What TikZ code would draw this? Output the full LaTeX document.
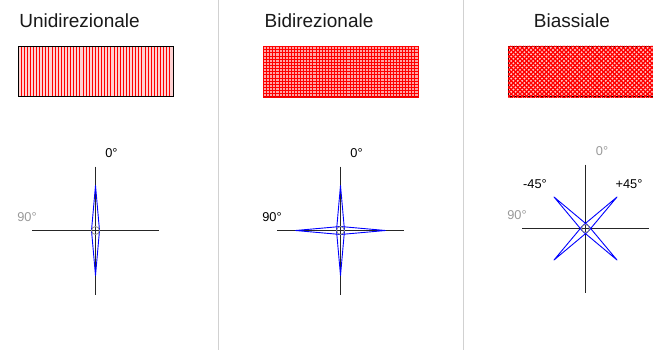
\documentclass[tikz,border=0pt]{standalone}
\usepackage{fontspec}
\setmainfont{Liberation Sans}
\begin{document}
\begin{tikzpicture}[
  x=1pt, y=-1pt,
  divider/.style={draw=black!18, line width=1pt},
  title/.style={font=\fontsize{19}{22}\selectfont, text=black!90},
  angle/.style={font=\fontsize{12.8}{15}\selectfont, inner sep=0pt},
  faded/.style={angle, text=black!40},
  frame/.style={draw=black, fill=red!18, line width=1pt},
  hatch/.style={draw=red, line width=0.9pt},
  crosshatch/.style={draw=red, line width=1.3pt},
  axis/.style={draw=black!85, line width=1pt},
  lens/.style={draw=blue, line width=0.9pt, line join=round},
  hub/.style={circle, draw=black!45, line width=0.8pt, minimum size=8pt, inner sep=0pt}
]
\useasboundingbox (0,0) rectangle (653,350);

% dividers
\draw[divider] (218.5,0) -- (218.5,350);
\draw[divider] (463.5,0) -- (463.5,350);

% titles
\node[title] (titleuni) at (79.5,21) {Unidirezionale};
\node[title] (titlebi) at (319,21) {Bidirezionale};
\node[title] (titlebia) at (572,21) {Biassiale};

% fabric swatches
\draw[frame] (18.5,46.5) rectangle (173,97);
\foreach \x in {21,24.1,...,172}
  \draw[hatch] (\x,47) -- (\x,96.5);

\draw[frame, draw=red!85!black, fill=red!35] (263.5,46.5) rectangle (418,97);
\foreach \x in {263.5,266.59,...,418.1}
  \draw[hatch] (\x,46) -- (\x,97.5);
\foreach \y in {46.5,49.66,...,97.1}
  \draw[hatch] (263,\y) -- (418.5,\y);

\draw[frame] (508.5,46.5) rectangle (664,97);
\begin{scope}
  \clip (508,46) rectangle (653,97.5);
  \foreach \x in {450,454.4,...,710} {
    \draw[crosshatch] (\x,46) -- (\x+52,98);
    \draw[crosshatch] (\x,98) -- (\x+52,46);
  }
\end{scope}

% unidirezionale
\coordinate (centeruni) at (95.5,230.5);
\draw[axis] ([yshift=64pt]centeruni) -- ([yshift=-64pt]centeruni);
\draw[axis] ([xshift=-63.5pt]centeruni) -- ([xshift=63.5pt]centeruni);
\draw[lens] ([yshift=45pt]centeruni) -- ([xshift=4pt]centeruni) -- ([yshift=-45pt]centeruni) -- ([xshift=-4pt]centeruni) -- cycle;
\node[hub] (hubuni) at (centeruni) {};
\node[angle] (zerouni) at (111.5,153) {0°};
\node[faded] (ninetyuni) at (27,217) {90°};

% bidirezionale
\coordinate (centerbi) at (340.5,230.5);
\draw[axis] ([yshift=64pt]centerbi) -- ([yshift=-64pt]centerbi);
\draw[axis] ([xshift=-63.5pt]centerbi) -- ([xshift=63.5pt]centerbi);
\draw[lens] ([yshift=45pt]centerbi) -- ([xshift=4pt]centerbi) -- ([yshift=-45pt]centerbi) -- ([xshift=-4pt]centerbi) -- cycle;
\draw[lens] ([xshift=45pt]centerbi) -- ([yshift=4pt]centerbi) -- ([xshift=-45pt]centerbi) -- ([yshift=-4pt]centerbi) -- cycle;
\node[hub] (hubbi) at (centerbi) {};
\node[angle] (zerobi) at (356.5,153) {0°};
\node[angle] (ninetybi) at (272,217) {90°};

% biassiale
\coordinate (centerbia) at (585.5,228.5);
\draw[axis] ([yshift=64pt]centerbia) -- ([yshift=-64pt]centerbia);
\draw[axis] ([xshift=-63.5pt]centerbia) -- ([xshift=63.5pt]centerbia);
\draw[lens] ([shift={(31.5pt,31.5pt)}]centerbia) -- ([shift={(2.8pt,-2.8pt)}]centerbia) -- ([shift={(-31.5pt,-31.5pt)}]centerbia) -- ([shift={(-2.8pt,2.8pt)}]centerbia) -- cycle;
\draw[lens] ([shift={(-31.5pt,31.5pt)}]centerbia) -- ([shift={(2.8pt,2.8pt)}]centerbia) -- ([shift={(31.5pt,-31.5pt)}]centerbia) -- ([shift={(-2.8pt,-2.8pt)}]centerbia) -- cycle;
\node[hub] (hubbia) at (centerbia) {};
\node[faded] (zerobia) at (602,151) {0°};
\node[faded] (ninetybia) at (517,215) {90°};
\node[angle] (minusbia) at (535,184) {-45°};
\node[angle] (plusbia) at (629,184) {+45°};
\end{tikzpicture}
\end{document}
